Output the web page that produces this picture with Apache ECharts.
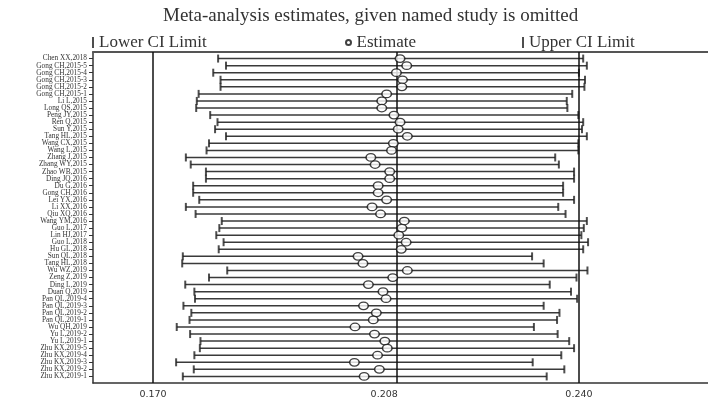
<!DOCTYPE html>
<html>
<head>
<meta charset="utf-8">
<script src="https://cdn.jsdelivr.net/npm/echarts@6/dist/echarts.min.js"></script>
<style>html,body{margin:0;padding:0;background:#fff;}#chart{width:708px;height:400px;}</style>
</head>
<body>
<div id="chart"></div>
<script>
const studies = ['Chen XX,2018','Gong CH,2015-5','Gong CH,2015-4','Gong CH,2015-3','Gong CH,2015-2','Gong CH,2015-1','Li L,2015','Long QS,2015','Peng JY,2015','Ren Q,2015','Sun Y,2015','Tang HL,2015','Wang CX,2015','Wang L,2015','Zhang J,2015','Zhang WY,2015','Zhao WB,2015','Ding JQ,2016','Du G,2016','Gong CH,2016','Lei YX,2016','Li XX,2016','Qiu XQ,2016','Wang YM,2016','Guo L,2017','Lin HJ,2017','Guo L,2018','Hu GL,2018','Sun QL,2018','Tang HL,2018','Wu WZ,2019','Zeng Z,2019','Ding L,2019','Duan Q,2019','Pan QL,2019-4','Pan QL,2019-3','Pan QL,2019-2','Pan QL,2019-1','Wu QH,2019','Yu L,2019-2','Yu L,2019-1','Zhu KX,2019-5','Zhu KX,2019-4','Zhu KX,2019-3','Zhu KX,2019-2','Zhu KX,2019-1'];
const lowerCI = [0.1807,0.1820,0.1799,0.1811,0.1811,0.1775,0.1772,0.1771,0.1794,0.1806,0.1802,0.1820,0.1792,0.1788,0.1754,0.1762,0.1787,0.1787,0.1766,0.1766,0.1776,0.1754,0.1770,0.1813,0.1809,0.1804,0.1816,0.1808,0.1749,0.1748,0.1822,0.1792,0.1753,0.1768,0.1769,0.1750,0.1763,0.1760,0.1739,0.1761,0.1778,0.1777,0.1768,0.1738,0.1767,0.1749];
const estimate = [0.2106,0.2117,0.2100,0.2110,0.2109,0.2084,0.2076,0.2076,0.2096,0.2106,0.2103,0.2118,0.2095,0.2092,0.2058,0.2065,0.2089,0.2089,0.2070,0.2070,0.2084,0.2060,0.2074,0.2113,0.2109,0.2104,0.2116,0.2108,0.2037,0.2045,0.2118,0.2094,0.2054,0.2078,0.2083,0.2046,0.2067,0.2062,0.2032,0.2064,0.2081,0.2085,0.2069,0.2031,0.2072,0.2047];
const upperCI = [0.2407,0.2413,0.2400,0.2410,0.2409,0.2389,0.2380,0.2381,0.2399,0.2407,0.2405,0.2413,0.2399,0.2399,0.2361,0.2367,0.2392,0.2392,0.2374,0.2374,0.2392,0.2366,0.2378,0.2413,0.2408,0.2404,0.2415,0.2407,0.2323,0.2342,0.2414,0.2396,0.2352,0.2387,0.2397,0.2342,0.2368,0.2364,0.2326,0.2365,0.2384,0.2392,0.2371,0.2324,0.2376,0.2347];
const tickValues = [0.170, 0.208, 0.240];
const tickLabels = ['0.170', '0.208', '0.240'];

const rows = studies.map((s, i) => i);
const serif = 'Liberation Serif';
const chart = echarts.init(document.getElementById('chart'), null, {renderer: 'canvas'});

const legendText = {fontFamily: serif, fontSize: 17, color: '#333'};
const option = {
  animation: false,
  backgroundColor: '#fff',
  title: {
    text: 'Meta-analysis estimates, given named study is omitted',
    left: 163, top: 7, padding: 0,
    textStyle: {fontFamily: serif, fontSize: 19, fontWeight: 'normal', color: '#333'}
  },
  legend: [
    {data: ['Lower CI Limit'], left: 92, top: 34, padding: 0, icon: 'rect', itemWidth: 2, itemHeight: 11, selectedMode: false, textStyle: legendText},
    {data: ['Estimate'], left: 345, top: 34, padding: 0, icon: 'circle', itemWidth: 6, itemHeight: 5, selectedMode: false, textStyle: legendText},
    {data: ['Upper CI Limit'], left: 522, top: 34, padding: 0, icon: 'rect', itemWidth: 2, itemHeight: 11, selectedMode: false, textStyle: legendText}
  ],
  grid: {left: 93, right: 0, top: 52, bottom: 17, containLabel: false},
  xAxis: [
    {
      type: 'value', position: 'bottom', min: 0.16014, max: 0.26121,
      axisLine: {show: true, onZero: false, lineStyle: {color: '#333', width: 1.5}},
      axisTick: {show: false},
      splitLine: {show: false},
      axisLabel: {
        customValues: tickValues, margin: 7, fontSize: 9.5, fontFamily: 'DejaVu Sans', color: '#333',
        formatter: (v) => { const k = tickValues.findIndex(t => Math.abs(t - v) < 1e-9); return k >= 0 ? tickLabels[k] : ''; }
      }
    },
    {
      type: 'value', position: 'top', min: 0.16014, max: 0.26121,
      axisLine: {show: true, onZero: false, lineStyle: {color: '#555', width: 2}},
      axisTick: {show: false}, axisLabel: {show: false}, splitLine: {show: false}
    }
  ],
  yAxis: {
    type: 'value', inverse: true, min: -0.93, max: 45.93,
    axisLine: {show: true, onZero: false, lineStyle: {color: '#333', width: 1.5}},
    axisTick: {show: true, customValues: rows, length: 4, lineStyle: {color: '#333', width: 1}},
    splitLine: {show: false},
    axisLabel: {
      customValues: rows, margin: 6, fontSize: 7.3, fontFamily: serif, color: '#333',
      showMinLabel: true, showMaxLabel: true, hideOverlap: false,
      formatter: (v) => studies[Math.round(v)] || ''
    }
  },
  series: [
    {
      type: 'custom', name: 'CI', silent: true, z: 2,
      data: rows.map(i => [lowerCI[i], upperCI[i], i]),
      encode: {x: [0, 1], y: 2},
      renderItem: function (params, api) {
        const p1 = api.coord([api.value(0), api.value(2)]);
        const p2 = api.coord([api.value(1), api.value(2)]);
        return {type: 'line', shape: {x1: p1[0], y1: p1[1], x2: p2[0], y2: p2[1]},
                style: {stroke: '#3a3a3a', lineWidth: 1.5}};
      }
    },
    {
      type: 'scatter', name: 'Lower CI Limit', z: 3, silent: true,
      symbol: 'rect', symbolSize: [2, 8],
      itemStyle: {color: '#222'},
      data: rows.map(i => [lowerCI[i], i]),
      markLine: {
        silent: true, symbol: ['none', 'none'], label: {show: false},
        lineStyle: {color: '#111', width: 1.5, type: 'solid'},
        data: tickValues.map(v => ({xAxis: v}))
      }
    },
    {
      type: 'scatter', name: 'Upper CI Limit', z: 3, silent: true,
      symbol: 'rect', symbolSize: [2, 8],
      itemStyle: {color: '#222'},
      data: rows.map(i => [upperCI[i], i])
    },
    {
      type: 'scatter', name: 'Estimate', z: 5, silent: true,
      symbol: 'circle', symbolSize: [9.5, 7.5],
      itemStyle: {color: '#fff', borderColor: '#111', borderWidth: 1.4},
      data: rows.map(i => [estimate[i], i])
    }
  ]
};
chart.setOption(option);
</script>
</body>
</html>
